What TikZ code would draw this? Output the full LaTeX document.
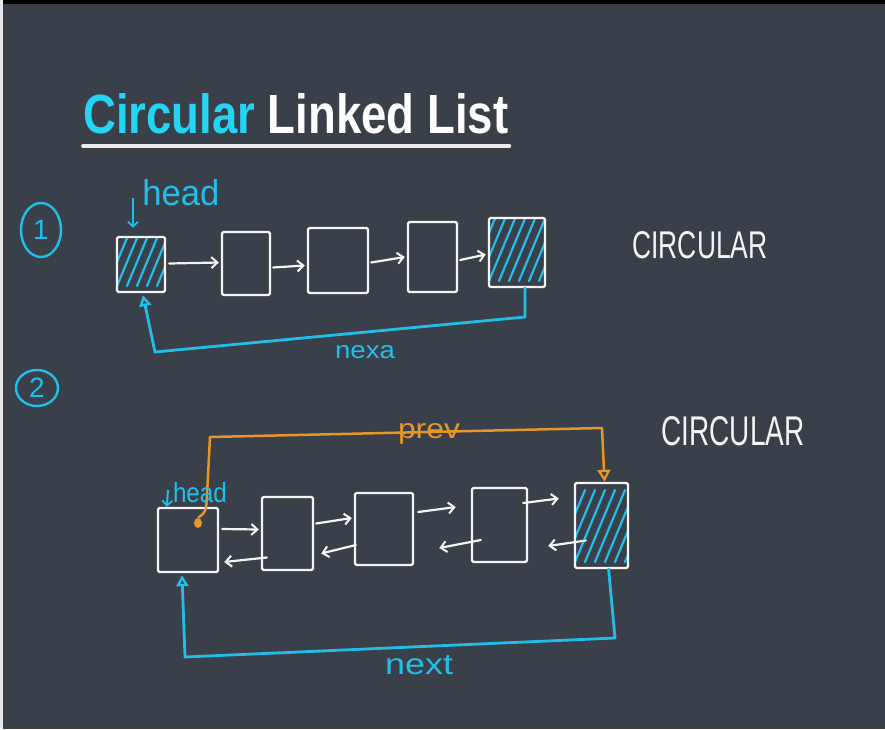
\documentclass[tikz,border=0pt]{standalone}
\usepackage{graphicx}
\usepackage{fontspec}
\setmainfont{Liberation Sans}
\usetikzlibrary{arrows.meta,calc,shapes.geometric}
\definecolor{bg}{RGB}{58,64,73}
\definecolor{strip}{RGB}{232,232,234}
\definecolor{chalk}{RGB}{244,244,244}
\definecolor{hand}{RGB}{34,190,232}
\definecolor{titlecyan}{RGB}{36,212,245}
\definecolor{prevc}{RGB}{230,150,40}
\definecolor{ulc}{RGB}{236,236,236}
\begin{document}
\begin{tikzpicture}[x=1pt,y=-1pt,
  cell/.style={draw=chalk,line width=2.4pt,inner sep=0pt,rounded corners=1.5pt},
  hatch/.style={path picture={
    \foreach \k in {#1}{
      \draw[hand,line width=2.2pt,line cap=round]
        ($(path picture bounding box.south west)+(\k*10pt,6pt)$) -- ++(30pt,72pt);
    }}},
  warrow/.style={draw=chalk,line width=2.2pt,line cap=round,
    -{Straight Barb[length=6pt,width=11pt,line width=2pt]}},
  cloop/.style={draw=hand,line width=2.8pt,line join=round,
    -{Triangle[open,length=11pt,width=12pt,line width=2.4pt]}},
  ploop/.style={draw=prevc,line width=2.5pt,line join=round,
    -{Triangle[open,length=12pt,width=13pt,line width=2.3pt]}},
  harrow/.style={draw=hand,line width=2pt,
    -{Straight Barb[length=5pt,width=10pt,line width=1.8pt]}},
  handtxt/.style={inner sep=0pt,text=hand},
  chalktxt/.style={inner sep=0pt,text=chalk},
  numcirc/.style={draw=hand,line width=2.4pt,ellipse,inner sep=0pt,text=hand,font=\fontsize{28}{28}\selectfont}
]
% background
\fill[bg] (0,0) rectangle (885,729);
\fill[strip] (0,0) rectangle (3,729);
\fill[black] (3,0) rectangle (885,4);

% title
\node[anchor=base west,inner sep=0pt,text=white] (title) at (83,133)
  {\resizebox{425pt}{40pt}{\bfseries{\color{titlecyan}Circular} Linked List}};
\draw[ulc,line width=3.6pt,line cap=round]
  ($(title.base west)+(0,13)$) -- ($(title.base east)+(1,13)$);

% ---------- section 1 ----------
\node[numcirc,minimum width=40pt,minimum height=54pt] (c1) at (41,230) {1};

\node[cell,hatch={-5,...,4},minimum width=48pt,minimum height=55pt] (a1) at (141,264.5) {};
\node[cell,minimum width=48pt,minimum height=63pt] (a2) at (246,263.5) {};
\node[cell,minimum width=60pt,minimum height=65pt] (a3) at (338,260.5) {};
\node[cell,minimum width=49pt,minimum height=70pt] (a4) at (432.5,257) {};
\node[cell,hatch={-5,...,5},minimum width=56pt,minimum height=69pt] (a5) at (517,252.5) {};

\draw[warrow] ($(a1.east)+(3,-1)$) -- ($(a2.west)+(-2,-1)$);
\draw[warrow] ($(a2.east)+(2,4)$) -- ($(a3.west)+(-2,5)$);
\draw[warrow] ($(a3.east)+(2,2)$) -- ($(a4.west)+(-2,0)$);
\draw[warrow] ($(a4.east)+(2,3)$) -- ($(a5.west)+(-2,2)$);

\node[handtxt] (hd1) at (181,193) {\resizebox{77pt}{26pt}{head}};
\coordinate (hs1) at (133,198);
\draw[harrow] (hs1) -- ($(a1.north)+(-8,-8)$);

\coordinate (n1r) at (525,317);
\coordinate (n1l) at (155,352);
\draw[cloop] ($(a5.south)+(8,-1)$) -- (n1r) -- (n1l) -- ($(a1.south)+(2,2)$);
\node[handtxt] (nx1) at (365,352) {\resizebox{60pt}{13pt}{nexa}};

\node[chalktxt] (circ1) at (700,245) {\resizebox{135pt}{27pt}{CIRCULAR}};

% ---------- section 2 ----------
\node[numcirc,minimum width=42pt,minimum height=36pt] (c2) at (37,388) {2};

\node[cell,minimum width=60pt,minimum height=64pt] (b1) at (188,540) {};
\node[cell,minimum width=51pt,minimum height=73pt] (b2) at (287.5,533.5) {};
\node[cell,minimum width=58pt,minimum height=72pt] (b3) at (384,529) {};
\node[cell,minimum width=55pt,minimum height=74pt] (b4) at (499.5,525) {};
\node[cell,hatch={-2,...,5},minimum width=53pt,minimum height=85pt] (b5) at (601.5,525.5) {};

% forward
\draw[warrow] ($(b1.east)+(3,-11)$) -- ($(b2.west)+(-2,-4)$);
\draw[warrow] ($(b2.east)+(2,-10)$) -- ($(b3.west)+(-2,-11)$);
\draw[warrow] ($(b3.east)+(4,-17)$) -- ($(b4.west)+(-15,-18)$);
\draw[warrow] ($(b4.east)+(-5,-22)$) -- ($(b5.west)+(-15,-27)$);
% backward
\draw[warrow] ($(b2.west)+(6,24)$) -- ($(b1.east)+(5,22)$);
\draw[warrow] ($(b3.west)+(2,16)$) -- ($(b2.east)+(7,20)$);
\draw[warrow] ($(b4.west)+(10,15)$) -- ($(b3.east)+(25,19)$);
\draw[warrow] ($(b5.west)+(12,15)$) -- ($(b4.east)+(20,21)$);

% prev (orange)
\node[ellipse,fill=prevc,inner sep=0pt,minimum width=8pt,minimum height=10pt] (pd) at (198,523) {};
\coordinate (p1) at (210,437);
\coordinate (p2) at (602,428);
\draw[ploop] (pd.north) .. controls (206,512) .. (207,495) -- (p1) -- (p2) -- ($(b5.north)+(3,0)$);
\node[inner sep=0pt,text=prevc] (pv) at (429,434) {\resizebox{62pt}{15pt}{prev}};

\node[handtxt] (hd2) at (200,493) {\resizebox{54pt}{20pt}{head}};
\coordinate (hs2) at (168,490);
\draw[harrow] (hs2) -- ($(b1.north west)+(10,0)$);

% next (cyan)
\coordinate (n2r) at (615,638);
\coordinate (n2l) at (185,657);
\draw[cloop] ($(b5.south)+(7,-1)$) -- (n2r) -- (n2l) -- ($(b1.south)+(-6,2)$);
\node[handtxt] (nx2) at (419,665) {\resizebox{68pt}{19pt}{next}};

\node[chalktxt] (circ2) at (733,431) {\resizebox{143pt}{29pt}{CIRCULAR}};
\end{tikzpicture}
\end{document}
